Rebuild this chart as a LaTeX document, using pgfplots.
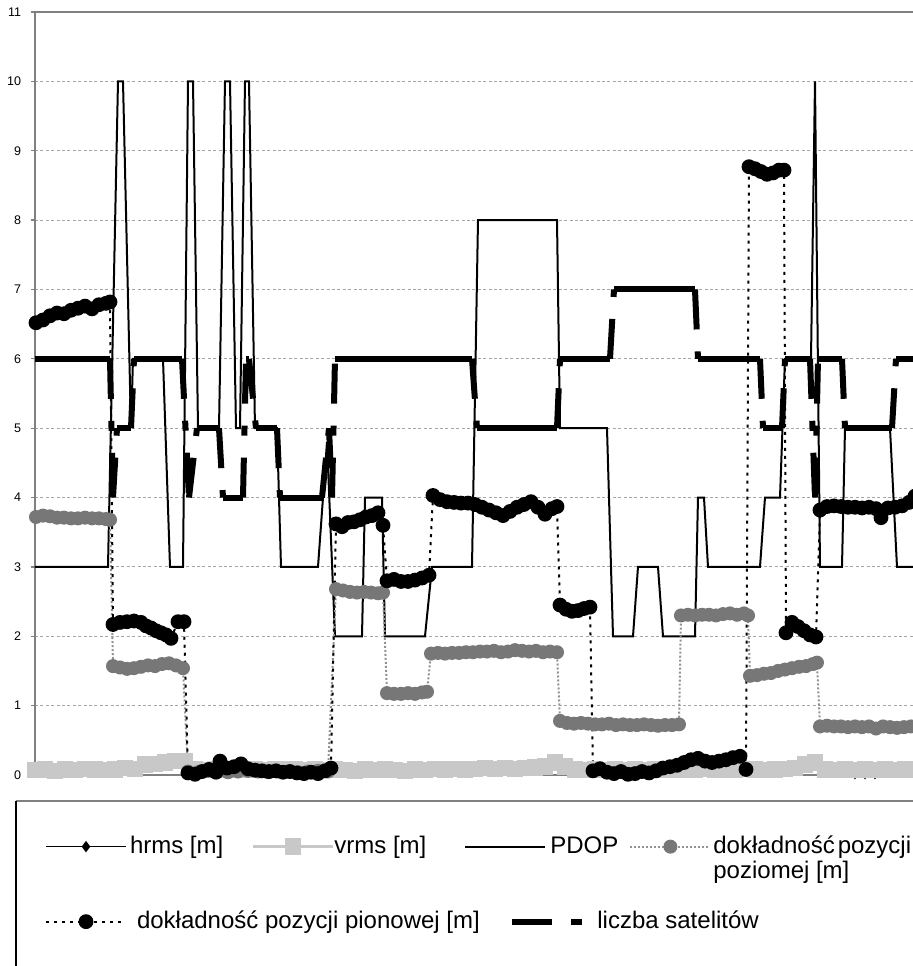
\documentclass[border=0pt]{standalone}
\usepackage{pgfplots}
\usepackage{pgfplotstable}
\pgfplotsset{compat=1.18}
\usepackage{fontspec}
\setmainfont{Liberation Sans}
\definecolor{vgray}{HTML}{C8C8C8}
\definecolor{pgray}{HTML}{777777}
\definecolor{axgray}{HTML}{808080}

\pgfplotstableread{
x hrms vrms
35 0.06 0.07
45 0.07 0.08
55 0.05 0.06
65 0.07 0.08
75 0.06 0.07
85 0.08 0.09
95 0.07 0.08
105 0.06 0.07
115 0.07 0.08
125 0.09 0.10
135 0.08 0.09
145 0.12 0.15
155 0.13 0.16
165 0.15 0.18
175 0.17 0.20
185 0.17 0.20
195 0.07 0.08
205 0.06 0.07
215 0.07 0.08
225 0.06 0.07
235 0.07 0.08
245 0.06 0.07
255 0.07 0.08
265 0.06 0.07
275 0.07 0.08
285 0.08 0.09
295 0.07 0.08
305 0.06 0.07
315 0.07 0.08
325 0.06 0.07
335 0.07 0.08
345 0.06 0.07
355 0.05 0.06
365 0.07 0.08
375 0.06 0.07
385 0.07 0.08
395 0.06 0.07
405 0.05 0.06
415 0.07 0.08
425 0.06 0.07
435 0.08 0.09
445 0.07 0.08
455 0.08 0.09
465 0.07 0.08
475 0.08 0.09
485 0.09 0.10
495 0.08 0.09
505 0.09 0.10
515 0.08 0.09
525 0.09 0.10
535 0.10 0.11
545 0.11 0.12
555 0.15 0.18
565 0.10 0.12
575 0.07 0.08
585 0.06 0.07
595 0.07 0.08
605 0.06 0.07
615 0.07 0.08
625 0.06 0.07
635 0.07 0.08
645 0.06 0.07
655 0.07 0.08
665 0.06 0.07
675 0.07 0.08
685 0.06 0.07
695 0.07 0.08
705 0.08 0.09
715 0.07 0.08
725 0.06 0.07
735 0.07 0.08
745 0.08 0.09
755 0.07 0.08
765 0.06 0.07
775 0.07 0.08
785 0.08 0.09
795 0.09 0.10
805 0.12 0.15
815 0.15 0.18
825 0.07 0.08
835 0.06 0.07
845 0.07 0.08
855 0.02 0.07
865 0.02 0.08
875 0.02 0.07
885 0.07 0.08
895 0.06 0.07
905 0.07 0.08
915 0.06 0.07
}\rmstab

\begin{document}
\begin{tikzpicture}
\begin{axis}[
  name=ax,
  scale only axis, width=445pt, height=381.5pt,
  xmin=35, xmax=925, ymin=0, ymax=11,
  xtick=\empty, ytick={0,1,...,11}, ytick pos=left,
  tick align=outside, major tick length=2pt,
  tick style={axgray, line width=0.6pt},
  yticklabel style={font=\fontsize{6.25}{7}\selectfont, xshift=-1.4pt},
  /pgf/number format/assume math mode=true,
  axis line style={axgray, line width=0.9pt},
  ymajorgrids,
  grid style={axgray!70, line width=0.5pt, dash pattern=on 1.5pt off 1.2pt},
  clip=false,
  unbounded coords=jump,
  legend columns=4,
  legend style={at={(0.01124,-0.0799)}, anchor=north west, draw=none, fill=none,
    inner sep=0pt, outer sep=0pt, column sep=0pt, row sep=10pt,
    font=\fontsize{12}{12.5}\selectfont,
    nodes={inner sep=0pt, outer sep=0pt, anchor=base west}},
  legend image code/.code={\draw[mark repeat=2,mark phase=2,yshift=3.5pt,#1] plot coordinates {(0pt,0pt)(20pt,0pt)(40pt,0pt)};},
]
% hrms
\addplot[black, line width=0.8pt, mark=diamond*, mark size=2.2pt] table[x=x,y=hrms]{\rmstab};
\addlegendentry{\makebox[62.5pt][l]{\hspace{1.5pt}hrms [m]}}
% vrms
\addplot[vgray, line width=1.2pt, mark=square*, mark size=3.5pt] table[x=x,y=vrms]{\rmstab};
\addlegendentry{\makebox[65pt][l]{vrms [m]}}
% PDOP
\addplot[black, line width=1pt] coordinates {
(35,3)(108,3)(118,10)(123,10)(131,5)(133,6)(163,6)(170,3)(183,3)(188,10)(193,10)(198,5)(219,5)(225,10)(230,10)(236,5)(240,5)(245,10)(249,10)(255,5)(277,5)(281,3)(318,3)(327,4.8)(335,2)(362,2)(365,4)(382,4)(385,2)(425,2)(432,3)(472,3)(478,8)(557,8)(560,5)(607,5)(613,2)(633,2)(638,3)(658,3)(663,2)(695,2)(698,4)(704,4)(708,3)(760,3)(765,4)(780,4)(785,6)(811,6)(815,10)(820,3)(842,3)(845,5)(890,5)(897,3)(925,3)
};
\addlegendentry{\makebox[41.5pt][l]{\hspace{2pt}PDOP}}
% dokladnosc pozioma
\addplot[pgray!80, line width=1pt, densely dotted, mark=*, mark size=3pt, mark options={solid, fill=pgray, draw=pgray}] coordinates {
(36,3.72)(43,3.74)(50,3.73)(57,3.71)(64,3.71)(71,3.70)(78,3.70)(85,3.71)(92,3.70)(99,3.70)(106,3.69)(110,3.68)
(113,1.57)(120,1.55)(127,1.53)(134,1.54)(141,1.56)(148,1.58)(155,1.57)(162,1.60)(169,1.61)(176,1.58)(183,1.54)
(188,0.05)(198,0.04)(208,0.06)(218,0.05)(228,0.04)(238,0.05)(248,0.06)(258,0.05)(268,0.04)(278,0.05)(288,0.05)(298,0.04)(308,0.05)(318,0.06)(328,0.05)
(336,2.68)(343,2.66)(350,2.64)(357,2.63)(364,2.64)(371,2.63)(378,2.62)(383,2.63)
(387,1.18)(394,1.17)(401,1.17)(408,1.18)(415,1.17)(422,1.19)(427,1.20)
(431,1.75)(438,1.76)(445,1.75)(452,1.76)(459,1.76)(466,1.77)(473,1.77)(480,1.78)(487,1.78)(494,1.79)(501,1.77)(508,1.78)(515,1.80)(522,1.79)(529,1.78)(536,1.79)(543,1.77)(550,1.78)(557,1.77)
(560,0.78)(567,0.75)(574,0.74)(581,0.75)(588,0.74)(595,0.73)(602,0.73)(609,0.74)(616,0.72)(623,0.73)(630,0.72)(637,0.72)(644,0.73)(651,0.72)(658,0.71)(665,0.72)(672,0.72)(679,0.73)
(681,2.30)(688,2.31)(695,2.30)(702,2.31)(709,2.31)(716,2.30)(723,2.32)(730,2.33)(737,2.31)(744,2.33)(748,2.30)
(750,1.43)(757,1.44)(764,1.46)(771,1.47)(778,1.50)(785,1.52)(792,1.54)(799,1.56)(806,1.57)(813,1.60)(817,1.62)
(820,0.70)(827,0.71)(834,0.70)(841,0.70)(848,0.69)(855,0.70)(862,0.69)(869,0.70)(876,0.67)(883,0.70)(890,0.69)(897,0.68)(904,0.69)(911,0.70)(918,0.71)
};
\addlegendentry{\hspace{1pt}\parbox[t]{130pt}{dokładność\hspace{1.5pt}pozycji\\poziomej [m]}}
% dokladnosc pionowa
\addplot[black, line width=1pt, dash pattern=on 1.5pt off 2.5pt, mark=*, mark size=3.2pt, mark options={solid}] coordinates {
(36,6.52)(43,6.56)(50,6.62)(57,6.66)(64,6.65)(71,6.70)(78,6.73)(85,6.76)(92,6.72)(99,6.78)(106,6.80)(110,6.82)
(113,2.17)(120,2.20)(127,2.21)(134,2.22)(141,2.20)(146,2.15)(151,2.12)(156,2.08)(161,2.05)(166,2.02)(171,1.97)(178,2.21)(184,2.21)
(188,0.03)(195,0.01)(202,0.05)(209,0.08)(216,0.04)(220,0.20)(227,0.10)(234,0.12)(241,0.16)(248,0.09)(255,0.07)(262,0.06)(269,0.05)(276,0.06)(283,0.04)(290,0.05)(297,0.03)(304,0.02)(311,0.04)(318,0.02)(325,0.06)(331,0.10)
(336,3.62)(342,3.58)(348,3.64)(354,3.65)(360,3.68)(366,3.72)(372,3.74)(378,3.78)(383,3.60)
(387,2.80)(394,2.82)(401,2.79)(408,2.79)(415,2.81)(422,2.84)(429,2.88)
(433,4.03)(440,3.97)(447,3.94)(454,3.93)(461,3.92)(468,3.92)(475,3.90)(482,3.86)(489,3.82)(496,3.78)(503,3.74)(510,3.80)(517,3.86)(524,3.90)(531,3.94)(538,3.86)(545,3.76)(552,3.84)(557,3.87)
(560,2.45)(566,2.39)(572,2.36)(578,2.37)(584,2.40)(590,2.42)
(593,0.06)(600,0.09)(607,0.04)(614,0.02)(621,0.05)(628,0.01)(635,0.02)(642,0.05)(649,0.03)(656,0.06)(663,0.10)(670,0.12)(677,0.14)(684,0.18)(691,0.22)(698,0.24)(705,0.20)(712,0.18)(719,0.20)(726,0.22)(733,0.25)(740,0.27)(746,0.08)
(749,8.77)(755,8.74)(761,8.70)(767,8.66)(773,8.68)(779,8.72)(784,8.72)
(786,2.05)(792,2.20)(798,2.14)(804,2.08)(810,2.02)(816,1.99)
(820,3.82)(827,3.87)(834,3.88)(841,3.87)(848,3.86)(855,3.86)(862,3.85)(869,3.86)(876,3.84)(881,3.71)(888,3.85)(895,3.86)(902,3.88)(909,3.93)(915,4.02)
};
\addlegendentry{\makebox[62.5pt][l]{\rule{0pt}{26pt}\hspace{5pt}dokładność pozycji pionowej [m]}}
\addlegendimage{empty legend}
\addlegendentry{}
% liczba satelitow: horizontal runs
\addplot[black, line width=3pt, line cap=butt,
  legend image code/.code={\draw[overlay, black, line width=3pt, yshift=3.5pt] (23.5pt,0pt) -- (43.5pt,0pt); \draw[overlay, black, line width=3pt, yshift=3.5pt] (53pt,0pt) -- (58.5pt,0pt);}] coordinates {
(35,6)(110,6)(nan,nan)
(117,5)(131,5)(nan,nan)
(134,6)(182,6)(nan,nan)
(197,5)(219,5)(nan,nan)
(223,4)(243,4)(nan,nan)
(246,6)(249,6)(nan,nan)
(256,5)(277,5)(nan,nan)
(280,4)(322,4)(nan,nan)
(335,6)(472,6)(nan,nan)
(477,5)(557,5)(nan,nan)
(560,6)(610,6)(nan,nan)
(614,7)(695,7)(nan,nan)
(698,6)(760,6)(nan,nan)
(763,5)(782,5)(nan,nan)
(785,6)(810,6)(nan,nan)
(818,6)(842,6)(nan,nan)
(845,5)(892,5)(nan,nan)
(896,6)(930,6)
};
\addlegendentry{\makebox[41.5pt][l]{\hspace{25.5pt}liczba satelitów}}
% liczba satelitow: transitions (dash pattern restarts on each piece)
\addplot[black, line width=3pt, line cap=butt, dash pattern=on 20pt off 11pt on 5pt off 11pt, forget plot] coordinates {
(110,6)(113,4)(nan,nan)
(113,4)(117,5)(nan,nan)
(131,5)(134,6)(nan,nan)
(182,6)(189,4)(nan,nan)
(189,4)(197,5)(nan,nan)
(219,5)(223,4)(nan,nan)
(243,4)(246,6)(nan,nan)
(249,6)(256,5)(nan,nan)
(277,5)(280,4)(nan,nan)
(322,4)(329,5)(nan,nan)
(329,5)(332,4)(nan,nan)
(332,4)(335,6)(nan,nan)
(472,6)(477,5)(nan,nan)
(557,5)(560,6)(nan,nan)
(610,6)(614,7)(nan,nan)
(695,7)(698,6)(nan,nan)
(760,6)(763,5)(nan,nan)
(782,5)(785,6)(nan,nan)
(810,6)(815,4)(nan,nan)
(815,4)(818,6)(nan,nan)
(842,6)(845,5)(nan,nan)
(892,5)(896,6)
};
% legend frame
\draw[axgray, line width=0.9pt] (axis description cs:-0.02135,-0.03408) -- (axis description cs:1.2,-0.03408);
\draw[black, line width=0.9pt] (axis description cs:-0.02135,-0.03408) -- (axis description cs:-0.02135,-0.5);
\end{axis}
\pgfresetboundingbox
\path[use as bounding box] ([shift={(-17.5pt,-95.5pt)}]ax.south west) rectangle ([shift={(439pt,387.5pt)}]ax.south west);
\end{tikzpicture}
\end{document}
